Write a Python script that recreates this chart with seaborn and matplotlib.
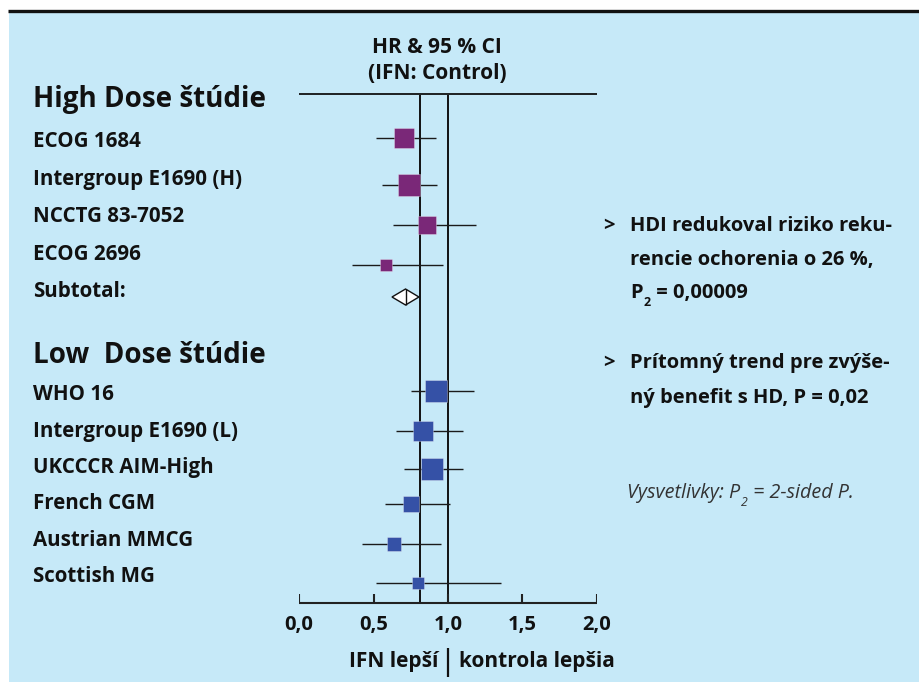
import numpy as np
import pandas as pd
import matplotlib
matplotlib.use("Agg")
import matplotlib.pyplot as plt
import seaborn as sns
from matplotlib.patches import Rectangle

# ---------------- data ----------------
high_studies = ["ECOG 1684", "Intergroup E1690 (H)", "NCCTG 83-7052", "ECOG 2696"]
high_hr = [0.705, 0.738, 0.859, 0.584]
high_lo = [0.517, 0.557, 0.631, 0.356]
high_hi = [0.919, 0.926, 1.188, 0.966]
high_weight = [20, 22, 18, 12]

subtotal_hr = 0.715
subtotal_lo = 0.624
subtotal_hi = 0.805

low_studies = ["WHO 16", "Intergroup E1690 (L)", "UKCCCR AIM-High",
               "French CGM", "Austrian MMCG", "Scottish MG"]
low_hr = [0.920, 0.832, 0.893, 0.752, 0.638, 0.796]
low_lo = [0.752, 0.651, 0.705, 0.577, 0.423, 0.517]
low_hi = [1.174, 1.100, 1.100, 1.013, 0.953, 1.356]
low_weight = [22, 20, 22, 16, 14, 12]

pooled_line = 0.81
null_line = 1.0
x_ticks = [0.0, 0.5, 1.0, 1.5, 2.0]
x_tick_labels = ["0,0", "0,5", "1,0", "1,5", "2,0"]

# ---------------- layout (pixel rows) ----------------
W, H = 920, 682
high_marker_y = [138, 185, 225, 265]
subtotal_y = 297
low_marker_y = [391, 431, 469, 504, 544, 583]
high_label_base = [147, 185, 222, 260]
subtotal_label_base = 297
low_label_base = [400, 437, 473, 509, 546, 582]

BG = "#C6E9F8"
PURPLE = "#7A2878"
BLUE = "#3551A6"
INK = "#111111"
FONT = ["Open Sans", "DejaVu Sans"]
FS_LABEL = 14.8
FS_NOTE = 14.5
FS_HEAD = 20

df = pd.DataFrame({
    "study": high_studies + low_studies,
    "hr": high_hr + low_hr,
    "lo": high_lo + low_lo,
    "hi": high_hi + low_hi,
    "weight": high_weight + low_weight,
    "group": ["High"] * len(high_studies) + ["Low"] * len(low_studies),
    "y": high_marker_y + low_marker_y,
})

sns.set_theme(style="white")
plt.rcParams["font.family"] = FONT

fig = plt.figure(figsize=(W / 100, H / 100), dpi=100, facecolor="white")

# background canvas in pixel coordinates
bg = fig.add_axes([0, 0, 1, 1])
bg.set_xlim(0, W)
bg.set_ylim(H, 0)
bg.set_axis_off()
bg.add_patch(Rectangle((9, 12), W - 9, H - 12, facecolor=BG, edgecolor="none", zorder=0))
bg.plot([8, W], [11, 11], color=INK, lw=2.4, solid_capstyle="butt", zorder=1)

# forest axes: x in HR units, y in pixel rows
ax = fig.add_axes([299 / W, 0, 298 / W, 1])

# reference lines
ax.hlines(94, 0, 2, color=INK, lw=1.3)
ax.vlines([pooled_line, null_line], 95, 603, color=INK, lw=1.4, zorder=2)
# x axis
ax.hlines(603, 0, 2, color="#222222", lw=1.5)
ax.vlines(x_ticks, 594, 603, color="#222222", lw=1.5)
for t, lab in zip(x_ticks, x_tick_labels):
    ax.text(t, 630, lab, ha="center", va="baseline", fontsize=FS_NOTE,
            fontweight="bold", color=INK)

# CI lines
ax.hlines(df["y"], df["lo"], df["hi"], color="#1a1a1a", lw=1.0, zorder=3)

# squares
sns.scatterplot(data=df, x="hr", y="y", hue="group",
                palette={"High": PURPLE, "Low": BLUE},
                marker="s", s=(df["weight"] * 0.72) ** 2,
                edgecolor=(1, 1, 1, 0.35), linewidth=0.6,
                legend=False, ax=ax, zorder=4, clip_on=False)
ax.set_axis_off()
ax.set_xlim(0, 2)
ax.set_ylim(H, 0)

# subtotal diamond
dh = 8
ax.fill([subtotal_lo, subtotal_hr, subtotal_hi, subtotal_hr],
        [subtotal_y, subtotal_y - dh, subtotal_y, subtotal_y + dh],
        facecolor="white", edgecolor=INK, lw=1.0, zorder=4)
ax.vlines(subtotal_hr, subtotal_y - dh, subtotal_y + dh, color=INK, lw=1.0, zorder=5)

# bottom direction labels
ax.vlines(null_line, 648, 677, color=INK, lw=1.6)
bg.text(438, 667, "IFN lepší", ha="right", va="baseline", fontsize=15,
        fontweight="bold", color=INK)
bg.text(459, 667, "kontrola lepšia", ha="left", va="baseline", fontsize=15,
        fontweight="bold", color=INK)

# header
bg.text(437, 53, "HR & 95 % CI", ha="center", va="baseline", fontsize=15,
        fontweight="bold", color=INK)
bg.text(437, 79, "(IFN: Control)", ha="center", va="baseline", fontsize=15,
        fontweight="bold", color=INK)

# left labels
bg.text(33, 107, "High Dose štúdie", ha="left", va="baseline", fontsize=FS_HEAD,
        fontweight="bold", color=INK)
for name, yb in zip(high_studies, high_label_base):
    bg.text(33, yb, name, ha="left", va="baseline", fontsize=FS_LABEL,
            fontweight="bold", color=INK)
bg.text(33, subtotal_label_base, "Subtotal:", ha="left", va="baseline",
        fontsize=FS_LABEL, fontweight="bold", color=INK)
bg.text(33, 363, "Low  Dose štúdie", ha="left", va="baseline", fontsize=FS_HEAD,
        fontweight="bold", color=INK)
for name, yb in zip(low_studies, low_label_base):
    bg.text(33, yb, name, ha="left", va="baseline", fontsize=FS_LABEL,
            fontweight="bold", color=INK)


def sub_text(x, y, before, sub, after, **kw):
    """Draw 'before' + subscript 'sub' + 'after' on one baseline."""
    size = kw.pop("fontsize")
    t1 = bg.text(x, y, before, ha="left", va="baseline", fontsize=size, **kw)
    t2 = bg.annotate(sub, xy=(1, 0), xycoords=t1, xytext=(0.5, -4.5),
                     textcoords="offset points", ha="left", va="bottom",
                     fontsize=size * 0.62, **kw)
    bg.annotate(after, xy=(1, 0), xycoords=(t2, t1), xytext=(0.5, 0),
                textcoords="offset points", ha="left", va="bottom",
                fontsize=size, **kw)


# right-hand notes
note_kw = dict(ha="left", va="baseline", fontsize=FS_NOTE, fontweight="bold", color=INK)
bg.text(603, 231, ">", **note_kw)
bg.text(630, 231, "HDI redukoval riziko reku-", **note_kw)
bg.text(630, 265, "rencie ochorenia o 26 %,", **note_kw)
sub_text(630, 298, "P", "2", " = 0,00009", fontsize=FS_NOTE,
         fontweight="bold", color=INK)
bg.text(603, 368, ">", **note_kw)
bg.text(630, 368, "Prítomný trend pre zvýše-", **note_kw)
bg.text(630, 403, "ný benefit s HD, P = 0,02", **note_kw)
sub_text(627, 498, "Vysvetlivky: P", "2", " = 2-sided P.", fontsize=14.2,
         style="italic", fontweight="normal", color="#333333")

fig.savefig("out.png", dpi=100, facecolor="white")
